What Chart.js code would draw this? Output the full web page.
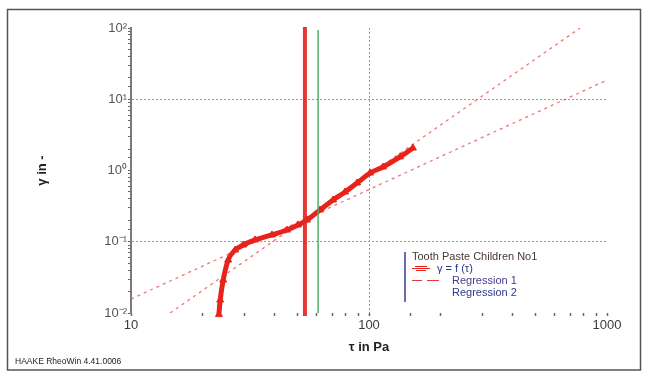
<!DOCTYPE html>
<html>
<head>
<meta charset="utf-8">
<script src="https://cdn.jsdelivr.net/npm/chart.js@4/dist/chart.umd.min.js"></script>
<style>
  html, body { margin: 0; padding: 0; background: #fff; }
  #wrap { width: 648px; height: 380px; position: relative; }
</style>
</head>
<body>
<div id="wrap"><canvas id="c" width="648" height="380"></canvas></div>
<script>
// ---- data ----
const tauData   = [23.4, 23.7, 24.4, 25.6, 27.4, 29.6, 33.2, 39.1, 45.2, 50.3, 54.9, 62.2, 70.6, 79.3, 89.1, 101, 114.5, 135, 153];
const gammaData = [0.0095, 0.0152, 0.029, 0.0554, 0.0766, 0.090, 0.106, 0.1245, 0.146, 0.172, 0.202, 0.279, 0.385, 0.499, 0.668, 0.922, 1.12, 1.55, 2.07];

const reg1Tau   = [14.6, 771];
const reg1Gamma = [0.01, 100];
const reg2Tau   = [10, 1000];
const reg2Gamma = [0.0157, 18.6];

const redLineTau   = [53.8, 53.8];
const redLineGamma = [0.0091, 103];
const greenLineTau   = [61.1, 61.1];
const greenLineGamma = [0.01, 93.7];

const xTickValues = [10, 100, 1000];
const xTickLabels = ['10', '100', '1000'];
const yTickValues = [0.01, 0.1, 1, 10, 100];
const yTickLabels = ['10\u207B\u00B2', '10\u207B\u00B9', '10\u2070', '10\u00B9', '10\u00B2'];
const yGridValues = [0.1, 10];
const xGridValues = [100];

const legendTitle = 'Tooth Paste Children No1';
const legendItems = ['\u03B3 = f (\u03C4)', 'Regression 1', 'Regression 2'];
const footerText = 'HAAKE RheoWin 4.41.0006';
const xTitle = '\u03C4 in Pa';
const yTitle = '\u03B3 in -';

// ---- helpers ----
const pts = (xs, ys) => xs.map((x, i) => ({x, y: ys[i]}));
const near = (a, b) => Math.abs(Math.log10(a) - Math.log10(b)) < 1e-6;
const labelFor = (v, vals, labs) => {
  for (let i = 0; i < vals.length; i++) if (near(v, vals[i])) return labs[i];
  return '';
};
const FONT = '"Liberation Sans", Arial, sans-serif';

const decor = {
  id: 'decor',
  beforeDraw(chart) {
    const ctx = chart.ctx;
    ctx.save();
    ctx.fillStyle = '#fff';
    ctx.fillRect(0, 0, chart.width, chart.height);
    ctx.strokeStyle = '#555';
    ctx.lineWidth = 1.5;
    ctx.strokeRect(7.5, 9.5, 633, 360.5);
    ctx.restore();
  },
  afterDraw(chart) {
    const ctx = chart.ctx;
    ctx.save();
    // footer
    ctx.font = '8.5px ' + FONT;
    ctx.fillStyle = '#222';
    ctx.textBaseline = 'middle';
    ctx.textAlign = 'left';
    ctx.fillText(footerText, 15, 362);
    // legend
    ctx.strokeStyle = '#3b3b8c';
    ctx.lineWidth = 1.5;
    ctx.beginPath(); ctx.moveTo(405, 252); ctx.lineTo(405, 302); ctx.stroke();
    ctx.font = '11px ' + FONT;
    ctx.fillStyle = '#4a3832';
    ctx.fillText(legendTitle, 412, 257);
    // symbol for data curve
    ctx.strokeStyle = '#e8231b';
    ctx.lineWidth = 1;
    ctx.beginPath(); ctx.moveTo(412, 268.5); ctx.lineTo(430, 268.5); ctx.stroke();
    ctx.beginPath(); ctx.moveTo(415, 266.5); ctx.lineTo(427, 266.5); ctx.stroke();
    ctx.beginPath(); ctx.moveTo(416, 270.5); ctx.lineTo(426, 270.5); ctx.stroke();
    ctx.fillStyle = '#2c3a8c';
    ctx.fillText(legendItems[0], 437, 269);
    // dashed symbol for regression
    ctx.strokeStyle = '#e83a35';
    ctx.beginPath(); ctx.moveTo(412, 280.5); ctx.lineTo(422, 280.5); ctx.moveTo(427, 280.5); ctx.lineTo(439, 280.5); ctx.stroke();
    ctx.fillStyle = '#4a3a8c';
    ctx.fillText(legendItems[1], 452, 281);
    ctx.fillStyle = '#2c3a8c';
    ctx.fillText(legendItems[2], 452, 292.5);
    ctx.restore();
  }
};

new Chart(document.getElementById('c'), {
  type: 'scatter',
  data: {
    datasets: [
      { data: pts(redLineTau, redLineGamma), showLine: true, borderColor: 'rgba(228,38,32,0.92)', borderWidth: 4, pointRadius: 0, clip: false, order: 1 },
      { data: pts(greenLineTau, greenLineGamma), showLine: true, borderColor: '#4fae6c', borderWidth: 1.5, pointRadius: 0, clip: false, order: 2 },
      { data: pts(tauData, gammaData), showLine: true, borderColor: '#e8231b', backgroundColor: '#e8231b', borderWidth: 5,
        pointStyle: 'triangle', pointRadius: 4, pointBorderWidth: 1, cubicInterpolationMode: 'monotone', clip: false, order: 3 },
      { data: pts(reg1Tau, reg1Gamma), showLine: true, borderColor: 'rgba(238,80,80,0.8)', borderWidth: 1.3, borderDash: [3, 4], pointRadius: 0, order: 4 },
      { data: pts(reg2Tau, reg2Gamma), showLine: true, borderColor: 'rgba(238,80,80,0.8)', borderWidth: 1.3, borderDash: [3, 4], pointRadius: 0, order: 5 }
    ]
  },
  options: {
    responsive: false,
    animation: false,
    devicePixelRatio: 1,
    events: [],
    layout: { padding: { top: 28, right: 41, left: 0, bottom: 0 } },
    plugins: { legend: { display: false }, tooltip: { enabled: false } },
    scales: {
      x: {
        type: 'logarithmic', min: 10, max: 1000,
        afterFit(s) { s.height = 67; },
        border: { display: false, dash: [2, 2] },
        grid: {
          color: c => (c.tick && xGridValues.some(v => near(v, c.tick.value))) ? '#9a9a9a' : 'rgba(0,0,0,0)',
          lineWidth: 1, tickLength: 3, tickWidth: 1.5, tickColor: '#666'
        },
        ticks: {
          autoSkip: false, maxRotation: 0, padding: 2,
          font: { family: FONT, size: 13 }, color: '#3a3a3a',
          callback: v => labelFor(v, xTickValues, xTickLabels)
        },
        title: { display: true, text: xTitle, font: { family: FONT, size: 13, weight: 'bold' }, color: '#222', padding: { top: 0, bottom: 25 } }
      },
      y: {
        type: 'logarithmic', min: 0.01, max: 100,
        afterFit(s) { s.width = 131; },
        border: { display: true, color: '#7a7a7a', width: 2, dash: [2, 2] },
        grid: {
          color: c => (c.tick && yGridValues.some(v => near(v, c.tick.value))) ? '#9a9a9a' : 'rgba(0,0,0,0)',
          lineWidth: 1, tickLength: 3, tickWidth: 1, tickColor: '#666'
        },
        ticks: {
          autoSkip: false, padding: 1,
          font: { family: FONT, size: 13 }, color: '#555',
          callback: v => labelFor(v, yTickValues, yTickLabels)
        },
        title: { display: true, text: yTitle, font: { family: FONT, size: 13, weight: 'bold' }, color: '#222', padding: { top: 35, bottom: 0 } }
      }
    }
  },
  plugins: [decor]
});
</script>
</body>
</html>
